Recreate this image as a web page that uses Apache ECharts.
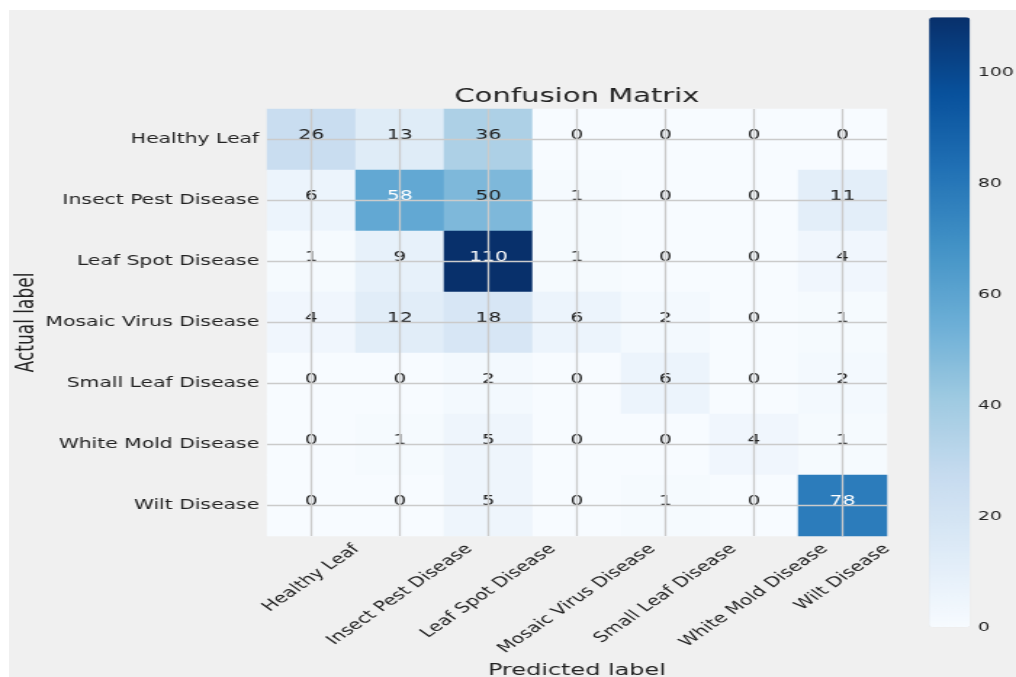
<!DOCTYPE html>
<html>
<head>
<meta charset="utf-8">
<script src="https://cdn.jsdelivr.net/npm/echarts@6/dist/echarts.min.js"></script>
<style>
  html, body { margin: 0; padding: 0; background: #ffffff; overflow: hidden; }
  #bg { position: absolute; left: 9px; top: 10px; width: 1007px; height: 667px; background: #f0f0f0; }
  /* the reference image is stretched sideways, so the chart is drawn narrow and scaled */
  #chart { position: absolute; left: 0; top: 0; width: 700px; height: 677px; transform: scaleX(1.4514); transform-origin: 0 0; }
</style>
</head>
<body>
<div id="bg"></div>
<div id="chart"></div>
<script>
const classNames = ['Healthy Leaf', 'Insect Pest Disease', 'Leaf Spot Disease', 'Mosaic Virus Disease',
  'Small Leaf Disease', 'White Mold Disease', 'Wilt Disease'];

// rows = actual label, columns = predicted label
const rowHealthyLeaf = [26, 13, 36, 0, 0, 0, 0];
const rowInsectPest  = [6, 58, 50, 1, 0, 0, 11];
const rowLeafSpot    = [1, 9, 110, 1, 0, 0, 4];
const rowMosaicVirus = [4, 12, 18, 6, 2, 0, 1];
const rowSmallLeaf   = [0, 0, 2, 0, 6, 0, 2];
const rowWhiteMold   = [0, 1, 5, 0, 0, 4, 1];
const rowWilt        = [0, 0, 5, 0, 1, 0, 78];
const matrixRows = [rowHealthyLeaf, rowInsectPest, rowLeafSpot, rowMosaicVirus, rowSmallLeaf, rowWhiteMold, rowWilt];

const colorbarMin = 0;
const colorbarMax = 110;
const colorbarStep = 20;

const blues = ['#f7fbff', '#deebf7', '#c6dbef', '#9ecae1', '#6baed6', '#4292c6', '#2171b5', '#08519c', '#08306b'];
const fontName = 'DejaVu Sans';
const textColor = '#222222';

const plotTop = 109;
const plotSize = 427;

const thresh = colorbarMax / 2;
const cells = [];
matrixRows.forEach((row, r) => {
  row.forEach((v, c) => {
    cells.push({ value: [c, r, v], label: { color: v > thresh ? '#ffffff' : textColor } });
  });
});

const chart = echarts.init(document.getElementById('chart'));
chart.setOption({
  animation: false,
  backgroundColor: 'transparent',
  textStyle: { fontFamily: fontName },
  title: {
    text: 'Confusion Matrix',
    left: 397.5,
    textAlign: 'center',
    top: 87,
    padding: 0,
    textStyle: { fontFamily: fontName, fontSize: 20, fontWeight: 'normal', color: textColor }
  },
  grid: [
    { left: 184, top: plotTop, width: plotSize, height: plotSize, outerBoundsMode: 'none' },
    { left: 640.1, top: 17.3, width: 28.2, height: 610, outerBoundsMode: 'none' }
  ],
  xAxis: [
    {
      type: 'category', gridIndex: 0, data: classNames,
      name: 'Predicted label', nameLocation: 'middle', nameGap: 126, nameMoveOverlap: false,
      nameTextStyle: { fontFamily: fontName, fontSize: 16.5, color: textColor },
      axisLine: { show: false }, axisTick: { show: false }, splitLine: { show: false },
      axisLabel: { show: false }
    },
    { type: 'value', gridIndex: 1, show: false }
  ],
  yAxis: [
    {
      type: 'category', gridIndex: 0, data: classNames, inverse: true,
      name: 'Actual label', nameLocation: 'middle', nameGap: 157, nameRotate: 90, nameMoveOverlap: false,
      nameTextStyle: { fontFamily: fontName, fontSize: 17, color: textColor },
      axisLine: { show: false }, axisTick: { show: false }, splitLine: { show: false },
      axisLabel: { interval: 0, margin: 5.5, fontSize: 14, color: textColor, fontFamily: fontName }
    },
    {
      type: 'value', gridIndex: 1, position: 'right',
      min: colorbarMin, max: colorbarMax, interval: colorbarStep,
      axisLine: { show: false }, axisTick: { show: false }, splitLine: { show: false },
      axisLabel: { margin: 5.5, fontSize: 13, color: textColor, fontFamily: fontName, showMaxLabel: false }
    }
  ],
  visualMap: {
    type: 'continuous',
    min: colorbarMin, max: colorbarMax,
    seriesIndex: 0,
    calculable: false,
    hoverLink: false,
    orient: 'vertical',
    left: 640.1, top: 17.3,
    itemWidth: 28.2, itemHeight: 610,
    padding: 0,
    inRange: { color: blues }
  },
  series: [
    {
      type: 'heatmap',
      xAxisIndex: 0, yAxisIndex: 0,
      data: cells,
      itemStyle: { borderWidth: 0 },
      label: { show: true, fontSize: 14, fontFamily: fontName, offset: [0, -4] },
      emphasis: { disabled: true },
      markLine: {
        silent: true,
        symbol: 'none',
        label: { show: false },
        lineStyle: { color: '#cbcbcb', width: 1.3, type: 'solid' },
        emphasis: { disabled: true },
        data: classNames.map(n => ({ xAxis: n })).concat(classNames.map(n => ({ yAxis: n })))
      }
    }
  ]
});

// x tick labels: rotated 45 deg and centred under each column like matplotlib does
const measureCtx = document.createElement('canvas').getContext('2d');
measureCtx.font = '14px "' + fontName + '"';
const plotBottom = plotTop + plotSize;
const xLabels = classNames.map((name, i) => {
  const tickX = chart.convertToPixel({ xAxisIndex: 0, yAxisIndex: 0 }, [i, 0])[0];
  const w = measureCtx.measureText(name).width;
  return {
    type: 'text',
    x: tickX,
    y: plotBottom + 6 + Math.SQRT1_2 * (w + 14) / 2,
    rotation: Math.PI / 4,
    silent: true,
    style: { text: name, font: '14px "' + fontName + '"', fill: textColor, align: 'center', verticalAlign: 'middle' }
  };
});
chart.setOption({ graphic: xLabels });
</script>
</body>
</html>
